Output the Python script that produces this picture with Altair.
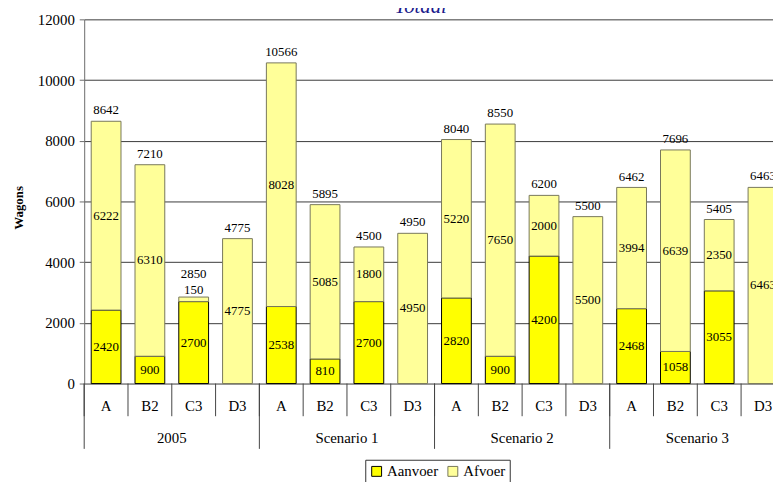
import altair as alt
import pandas as pd

groups = ["2005", "Scenario 1", "Scenario 2", "Scenario 3"]
cats = ["A", "B2", "C3", "D3"]
aanvoer = [2420, 900, 2700, 0, 2538, 810, 2700, 0, 2820, 900, 4200, 0, 2468, 1058, 3055, 0]
afvoer = [6222, 6310, 150, 4775, 8028, 5085, 1800, 4950, 5220, 7650, 2000, 5500, 3994, 6639, 2350, 6463]
totals = [8642, 7210, 2850, 4775, 10566, 5895, 4500, 4950, 8040, 8550, 6200, 5500, 6462, 7696, 5405, 6463]
y_ticks = [0, 2000, 4000, 6000, 8000, 10000, 12000]

FONT = "Liberation Serif"
W, H = 696, 368
SLOT_PX = 44.25
XMAX = W / SLOT_PX

seg_rows, tot_rows, cat_rows = [], [], []
for i in range(16):
    a, f = aanvoer[i], afvoer[i]
    if a > 0:
        seg_rows.append(dict(x0=i + 0.16, x1=i + 0.84, xc=i + 0.5, series="Aanvoer",
                             y0=0, y1=a, value=a, mid=a / 2, small=a < 500))
    seg_rows.append(dict(x0=i + 0.16, x1=i + 0.84, xc=i + 0.5, series="Afvoer",
                         y0=a, y1=a + f, value=f, mid=a + f / 2, small=f < 500))
    tot_rows.append(dict(xc=i + 0.5, top=a + f, total=totals[i], small=f < 500))
    cat_rows.append(dict(xc=i + 0.5, label=cats[i % 4], b=i))
seg = pd.DataFrame(seg_rows)
tot = pd.DataFrame(tot_rows)
catdf = pd.DataFrame(cat_rows)
grpdf = pd.DataFrame(dict(xc=[4 * g + 2 for g in range(4)], label=groups))
sepdf = pd.DataFrame(dict(b=list(range(17))))
gsepdf = pd.DataFrame(dict(b=[0, 4, 8, 12, 16]))

xs = alt.Scale(domain=[0, XMAX], nice=False, zero=False)
ys = alt.Scale(domain=[0, 12000], nice=False)

yaxis = alt.Axis(values=y_ticks, format="d", grid=True, gridColor="#3a3a3a", gridWidth=1,
                 domainColor="#6a6a6a", tickColor="#6a6a6a", tickSize=5,
                 labelFont=FONT, labelFontSize=15, labelColor="black", labelPadding=5,
                 title="Wagons", titleFont=FONT, titleFontSize=13, titleFontWeight="bold",
                 titleColor="black", titleX=-66, titleY=190, titleAngle=-90,
                 titleAlign="center", titleBaseline="middle")

bars = alt.Chart(seg).mark_bar(strokeWidth=1).encode(
    x=alt.X("x0:Q", scale=xs, axis=None),
    x2="x1:Q",
    y=alt.Y("y0:Q", scale=ys, axis=yaxis),
    y2="y1:Q",
    color=alt.Color("series:N",
                    scale=alt.Scale(domain=["Aanvoer", "Afvoer"], range=["#FFFF00", "#FFFF99"]),
                    legend=alt.Legend(title=None, orient="none", legendX=284, legendY=445,
                                      direction="horizontal", symbolType="square",
                                      symbolSize=100, symbolStrokeColor="black",
                                      symbolStrokeWidth=1, labelFont=FONT, labelFontSize=15,
                                      labelColor="black", strokeColor="#333333",
                                      fillColor="white", padding=4, columnPadding=7,
                                      labelOffset=3)),
    stroke=alt.Stroke("series:N",
                      scale=alt.Scale(domain=["Aanvoer", "Afvoer"], range=["#000000", "#77775a"]),
                      legend=None),
)

seg_lbl = alt.Chart(seg).transform_filter("!datum.small").mark_text(
    font=FONT, fontSize=13, color="black", baseline="middle").encode(
    x=alt.X("xc:Q", scale=xs), y=alt.Y("mid:Q", scale=ys), text="value:Q")

seg_lbl_small = alt.Chart(seg).transform_filter("datum.small").mark_text(
    font=FONT, fontSize=13, color="black", baseline="middle", dy=-7).encode(
    x=alt.X("xc:Q", scale=xs), y=alt.Y("y1:Q", scale=ys), text="value:Q")

tot_lbl = alt.Chart(tot).transform_filter("!datum.small").mark_text(
    font=FONT, fontSize=13, color="black", baseline="middle", dy=-11).encode(
    x=alt.X("xc:Q", scale=xs), y=alt.Y("top:Q", scale=ys), text="total:Q")

tot_lbl_small = alt.Chart(tot).transform_filter("datum.small").mark_text(
    font=FONT, fontSize=13, color="black", baseline="middle", dy=-23).encode(
    x=alt.X("xc:Q", scale=xs), y=alt.Y("top:Q", scale=ys), text="total:Q")

seps = alt.Chart(sepdf).mark_rule(color="#444444", strokeWidth=1).encode(
    x=alt.X("b:Q", scale=xs), y=alt.value(H), y2=alt.value(H + 33))

gseps = alt.Chart(gsepdf).mark_rule(color="#444444", strokeWidth=1).encode(
    x=alt.X("b:Q", scale=xs), y=alt.value(H), y2=alt.value(H + 66))

cat_lbl = alt.Chart(catdf).mark_text(font=FONT, fontSize=15, color="black",
                                     baseline="middle").encode(
    x=alt.X("xc:Q", scale=xs), y=alt.value(H + 23), text="label:N")

grp_lbl = alt.Chart(grpdf).mark_text(font=FONT, fontSize=15, color="black",
                                     baseline="middle").encode(
    x=alt.X("xc:Q", scale=xs), y=alt.value(H + 55), text="label:N")

title = alt.Chart(pd.DataFrame(dict(t=["Totaal"]))).mark_text(
    font=FONT, fontSize=21, fontStyle="italic", color="#1a1a8c", baseline="alphabetic").encode(
    x=alt.value(340), y=alt.value(-6), text="t:N")

chart = alt.layer(bars, seg_lbl, seg_lbl_small, tot_lbl, tot_lbl_small,
                  seps, gseps, cat_lbl, grp_lbl, title).properties(
    width=W, height=H,
    autosize=alt.AutoSizeParams(type="none"),
    padding={"left": 77, "top": 9, "right": 0, "bottom": 97},
).configure_view(stroke=None)

chart.save("out.html", embed_options={"renderer": "svg", "actions": False})
